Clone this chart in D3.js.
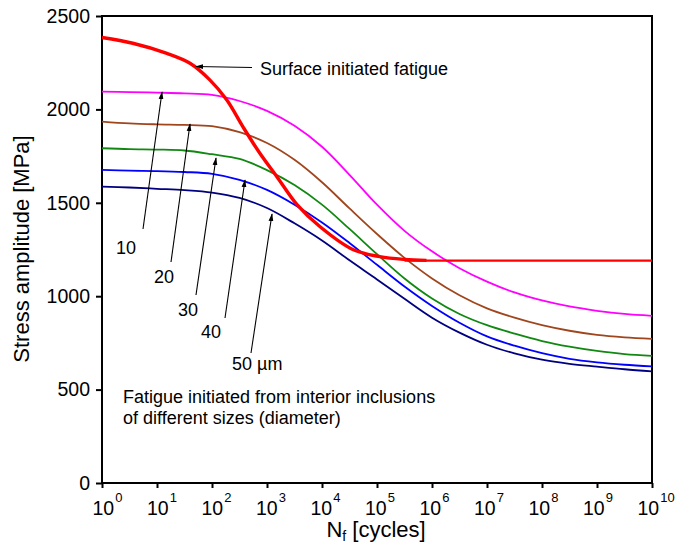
<!DOCTYPE html>
<html>
<head>
<meta charset="utf-8">
<script src="https://cdn.jsdelivr.net/npm/d3@7"></script>
<style>
  body { margin: 0; background: #fff; }
  svg { font-family: "Liberation Sans", Arial, sans-serif; }
  .axis text { font-size: 19.5px; fill: #000; }
  .axis line { stroke: #000; stroke-width: 2px; }
  .note { font-size: 18px; fill: #000; }
</style>
</head>
<body>
<div id="chart"></div>
<script>
const logN = [0, 0.5, 1, 1.5, 2, 2.5, 3, 3.5, 4, 4.5, 5, 5.5, 6, 6.5, 7, 7.5, 8, 8.5, 9, 9.5, 10];

// interior inclusion curves, stress amplitude in MPa
const s10 = [2095, 2093, 2090, 2086, 2078, 2045, 1992, 1912, 1800, 1650, 1490, 1350, 1240, 1150, 1078, 1020, 977, 945, 922, 905, 895];
const s20 = [1935, 1925, 1920, 1917, 1910, 1878, 1820, 1730, 1610, 1470, 1333, 1205, 1095, 1005, 935, 885, 845, 815, 793, 780, 772];
const s30 = [1792, 1787, 1785, 1780, 1760, 1735, 1675, 1595, 1490, 1360, 1225, 1095, 988, 905, 845, 800, 760, 730, 707, 690, 681];
const s40 = [1676, 1672, 1670, 1665, 1655, 1623, 1569, 1490, 1395, 1285, 1168, 1052, 948, 858, 785, 735, 695, 665, 646, 633, 624];
const s50 = [1587, 1582, 1575, 1568, 1555, 1526, 1472, 1390, 1298, 1192, 1090, 986, 885, 805, 740, 694, 660, 638, 623, 609, 598];

// surface initiated curve (read at uneven points along the bend)
const surfLogN = [0, 0.56, 1.18, 1.6, 1.96, 2.27, 2.56, 2.87, 3.18, 3.55, 3.96, 4.56, 5.05, 5.5, 5.9];
const surfS = [2385, 2354, 2300, 2247, 2158, 2050, 1908, 1765, 1640, 1489, 1373, 1250, 1212, 1197, 1192];
const plateauLogN = [5.5, 10];
const plateauS = [1190, 1190];

const sizes = ["10", "20", "30", "40", "50 \u00b5m"];
const yTicks = [0, 500, 1000, 1500, 2000, 2500];
const xExps = [0, 1, 2, 3, 4, 5, 6, 7, 8, 9, 10];

const config = {
  width: 676, height: 554,
  margin: {top: 16, right: 24, bottom: 71, left: 102}
};
const w = config.width - config.margin.left - config.margin.right;
const h = config.height - config.margin.top - config.margin.bottom;

const svg = d3.select('#chart').append('svg')
    .attr('width', config.width)
    .attr('height', config.height);

const chart = svg.append('g')
    .attr('transform', `translate(${config.margin.left},${config.margin.top})`);

const xScale = d3.scaleLog().domain([1, 1e10]).range([0, w]);
const yScale = d3.scaleLinear().domain([0, 2500]).range([h, 0]);

// axes
const yAxisG = chart.append('g')
    .attr('class', 'axis')
    .call(d3.axisLeft(yScale).tickValues(yTicks).tickSize(6).tickPadding(6).tickFormat(d3.format('d')));
yAxisG.select('.domain').remove();

const xAxisG = chart.append('g')
    .attr('class', 'axis')
    .attr('transform', `translate(0,${h})`)
    .call(d3.axisBottom(xScale).tickValues(xExps.map(e => Math.pow(10, e))).tickSize(5).tickFormat(''));
xAxisG.select('.domain').remove();

// labels drift a little left along the axis in the original
xAxisG.selectAll('.tick text')
    .attr('y', 32).attr('dy', 0)
    .attr('text-anchor', 'start')
    .attr('x', (d, i) => -10 - 0.5 * xExps[i])
    .each(function(d, i) {
      const t = d3.select(this);
      t.append('tspan').text('10');
      t.append('tspan')
          .attr('dy', -13)
          .attr('dx', 1)
          .style('font-size', '13px')
          .text(xExps[i]);
    });

// frame
chart.append('rect')
    .attr('width', w).attr('height', h)
    .attr('fill', 'none')
    .attr('stroke', '#000')
    .attr('stroke-width', 2);

// curves
const line = d3.line()
    .x(d => xScale(Math.pow(10, d[0])))
    .y(d => yScale(d[1]))
    .curve(d3.curveCatmullRom.alpha(0.5));

const series = [
  {values: s10, color: '#ff00ff'},
  {values: s20, color: '#a0461e'},
  {values: s30, color: '#118811'},
  {values: s40, color: '#0000ff'},
  {values: s50, color: '#000080'}
];

chart.selectAll('.inclusion')
    .data(series)
  .join('path')
    .attr('class', 'inclusion')
    .attr('fill', 'none')
    .attr('stroke', d => d.color)
    .attr('stroke-width', 1.8)
    .attr('d', d => line(logN.map((e, i) => [e, d.values[i]])));

chart.append('path')
    .attr('fill', 'none')
    .attr('stroke', '#ff0000')
    .attr('stroke-width', 2.2)
    .attr('d', line(plateauLogN.map((e, i) => [e, plateauS[i]])));

chart.append('path')
    .attr('fill', 'none')
    .attr('stroke', '#ff0000')
    .attr('stroke-width', 3.4)
    .attr('d', line(surfLogN.map((e, i) => [e, surfS[i]])));

// arrows
svg.append('defs').append('marker')
    .attr('id', 'head')
    .attr('viewBox', '0 0 10 10')
    .attr('refX', 9).attr('refY', 5)
    .attr('markerWidth', 8).attr('markerHeight', 8)
    .attr('markerUnits', 'userSpaceOnUse')
    .attr('orient', 'auto')
  .append('path')
    .attr('d', 'M0,2 L10,5 L0,8 Z')
    .attr('fill', '#000');

// arrow ends in pixel space of the svg: [from, to]
const arrows = [
  [[252, 67.5], [196, 66.5]],
  [[143, 229], [162, 92]],
  [[171, 262], [190, 124]],
  [[196, 295], [216, 158]],
  [[225, 318], [245, 180]],
  [[251, 353], [272, 214]]
];

svg.selectAll('.arrow')
    .data(arrows)
  .join('line')
    .attr('class', 'arrow')
    .attr('x1', d => d[0][0]).attr('y1', d => d[0][1])
    .attr('x2', d => d[1][0]).attr('y2', d => d[1][1])
    .attr('stroke', '#000')
    .attr('stroke-width', 1.1)
    .attr('marker-end', 'url(#head)');

const labelPos = [[116, 254], [154, 283], [178, 316], [201, 338], [232, 370]];
svg.selectAll('.size')
    .data(sizes)
  .join('text')
    .attr('class', 'note')
    .attr('x', (d, i) => labelPos[i][0])
    .attr('y', (d, i) => labelPos[i][1])
    .text(d => d);

svg.append('text').attr('class', 'note')
    .attr('x', 260).attr('y', 75)
    .text('Surface initiated fatigue');

svg.append('text').attr('class', 'note')
    .attr('x', 123).attr('y', 403)
    .text('Fatigue initiated from interior inclusions');
svg.append('text').attr('class', 'note')
    .attr('x', 123).attr('y', 424)
    .text('of different sizes (diameter)');

// axis titles
svg.append('text')
    .attr('transform', 'translate(29,249) rotate(-90)')
    .attr('text-anchor', 'middle')
    .style('font-size', '22px')
    .text('Stress amplitude [MPa]');

const xt = svg.append('text')
    .attr('x', 376).attr('y', 537)
    .attr('text-anchor', 'middle')
    .style('font-size', '22px');
xt.append('tspan').text('N');
xt.append('tspan').attr('dy', 4).style('font-size', '14px').text('f');
xt.append('tspan').attr('dy', -4).text(' [cycles]');
</script>
</body>
</html>
